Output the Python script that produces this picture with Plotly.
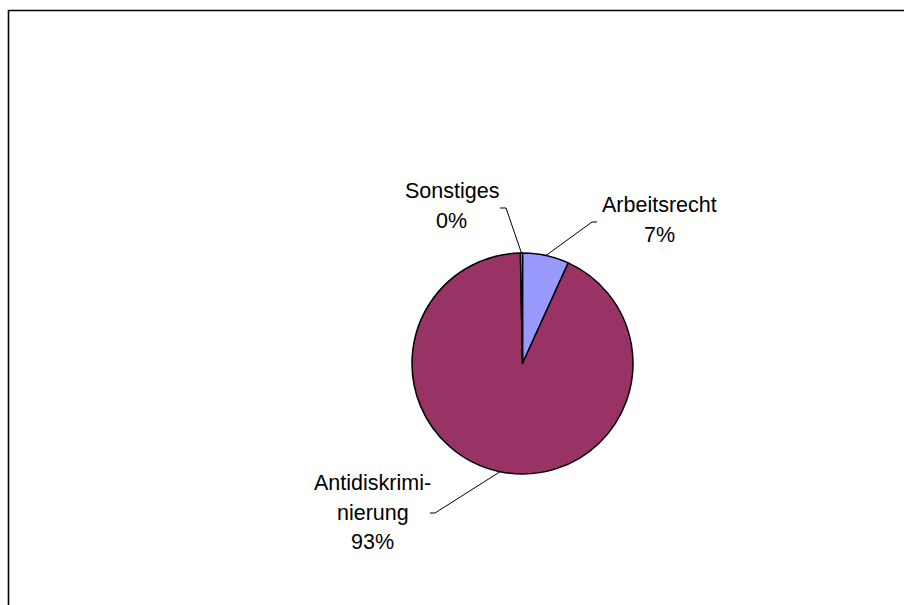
import math
import plotly.graph_objects as go

# ---- data ----
categories = ["Arbeitsrecht", "Antidiskriminierung", "Sonstiges"]
label_lines = [["Arbeitsrecht"], ["Antidiskrimi-", "nierung"], ["Sonstiges"]]
values = [6.8, 92.9, 0.3]
colors = ["#9999FF", "#993366", "#FFFFCC"]

W, H = 904, 605
# pie geometry (pixels)
CX, CY, R = 522.5, 363.5, 110.5

def px(x):
    return x / W

def py(y):
    return 1 - y / H

fig = go.Figure()
fig.add_trace(go.Pie(
    labels=categories,
    values=values,
    sort=False,
    direction="clockwise",
    rotation=0,
    textinfo="none",
    hoverinfo="label+percent",
    marker=dict(colors=colors, line=dict(color="#000000", width=1.5)),
    domain=dict(x=[px(CX - R), px(CX + R)], y=[py(CY + R), py(CY - R)]),
    showlegend=False,
))

total = sum(values)
# label layout: (center x, first line middle y, tick start, tick end)
label_pos = {
    "Arbeitsrecht": dict(x=659, y=205, tick=(597, 592, 222)),
    "Antidiskriminierung": dict(x=372.5, y=483, tick=(430, 435, 513)),
    "Sonstiges": dict(x=451.5, y=191, tick=(500, 506, 208)),
}
LINE_H = 29.5
FONT = dict(family="Liberation Sans, Arial, sans-serif", size=21.5, color="#000000")

annotations = []
shapes = []
cum = 0.0
for cat, lines, v in zip(categories, label_lines, values):
    mid = (cum + v / 2) / total * 2 * math.pi
    cum += v
    ex = CX + R * math.sin(mid)
    ey = CY - R * math.cos(mid)
    pos = label_pos[cat]
    pct = f"{round(v / total * 100):.0f}%"
    all_lines = lines + [pct]
    for i, t in enumerate(all_lines):
        annotations.append(dict(
            x=px(pos["x"]), y=py(pos["y"] + i * LINE_H), xref="paper", yref="paper",
            text=t, showarrow=False, xanchor="center", yanchor="middle", font=FONT,
        ))
    tx0, tx1, ty = pos["tick"]
    shapes.append(dict(
        type="path", xref="paper", yref="paper",
        path=f"M {px(tx0)} {py(ty)} L {px(tx1)} {py(ty)} L {px(ex)} {py(ey)}",
        line=dict(color="#000000", width=1),
    ))

# chart frame (left and top edges visible; right/bottom outside the view)
shapes.append(dict(
    type="path", xref="paper", yref="paper",
    path=f"M {px(8.5)} {py(640)} L {px(8.5)} {py(10.5)} L {px(930)} {py(10.5)}",
    line=dict(color="#000000", width=1.6),
))

fig.update_layout(
    width=W, height=H,
    margin=dict(l=0, r=0, t=0, b=0, pad=0),
    paper_bgcolor="#FFFFFF", plot_bgcolor="#FFFFFF",
    annotations=annotations, shapes=shapes,
)
fig.write_html(
    "out.html",
    config={"displayModeBar": False},
    post_script="document.body.style.margin='0';document.body.style.overflow='hidden';",
)
